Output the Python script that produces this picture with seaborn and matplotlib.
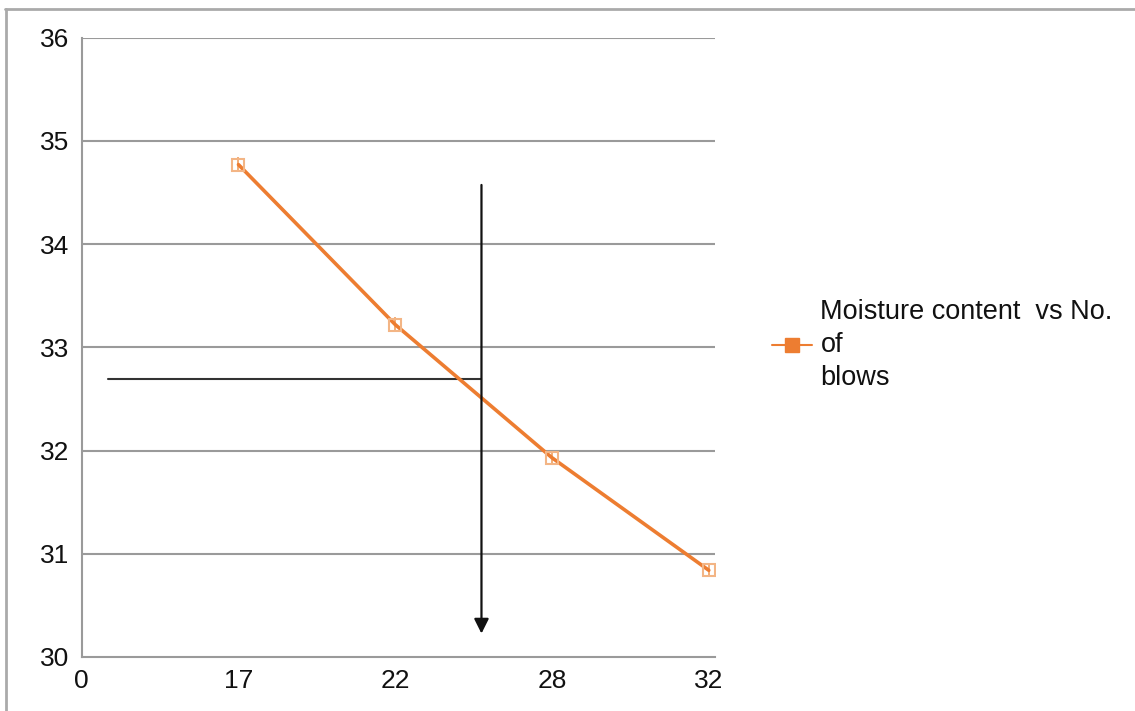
import matplotlib
matplotlib.use("Agg")
import matplotlib.pyplot as plt
import seaborn as sns
import pandas as pd
from matplotlib.lines import Line2D

# data
x_labels = ["0", "17", "22", "28", "32"]
blows = ["17", "22", "28", "32"]
moisture = [34.77, 33.22, 31.93, 30.84]

# guide lines (reading moisture at 25 blows)
guide_x = 2.55
guide_y = 32.69

sns.set_style("white")
plt.rcParams['font.family'] = ['Liberation Sans', 'DejaVu Sans']
plt.rcParams['text.color'] = '#111111'
plt.rcParams['xtick.labelcolor'] = '#111111'
plt.rcParams['ytick.labelcolor'] = '#111111'

orange = "#ED7D31"
grid_col = "#9a9a9a"

df = pd.DataFrame({"pos": [x_labels.index(b) for b in blows], "moisture": moisture})

fig = plt.figure(figsize=(11.35, 7.11), dpi=100)
ax = fig.add_axes([0.072, 0.076, 0.558, 0.871])

for yv in range(31, 37):
    ax.axhline(yv, color=grid_col, lw=1.5, zorder=1)

sns.lineplot(data=df, x="pos", y="moisture", color=orange, lw=2.6, ax=ax,
             marker="s", markersize=9, markerfacecolor="none",
             markeredgecolor="#f3b585", markeredgewidth=1.5, zorder=3)

# small vertical error ticks on markers
ax.errorbar(df["pos"], df["moisture"], yerr=0.07, fmt="none",
            ecolor="#f0a060", elinewidth=1.2, zorder=2)

# reading lines
ax.plot([0.17, guide_x], [guide_y, guide_y], color="#333333", lw=1.5, zorder=2)
ax.annotate("", xy=(guide_x, 30.2), xytext=(guide_x, 34.6),
            arrowprops=dict(arrowstyle="-|>", color="#111111", lw=1.6,
                            mutation_scale=22), zorder=4)

ax.set_xlim(0, 4.04)
ax.set_ylim(30, 36)
ax.set_xticks(range(len(x_labels)))
ax.set_xticklabels(x_labels)
ax.set_yticks(range(30, 37))
ax.set_xlabel("")
ax.set_ylabel("")
ax.tick_params(axis="y", length=7, color=grid_col, labelsize=19, pad=2)
ax.tick_params(axis="x", length=0, labelsize=19, pad=9)
for s in ["top", "right"]:
    ax.spines[s].set_visible(False)
for s in ["left", "bottom"]:
    ax.spines[s].set_color(grid_col)
    ax.spines[s].set_linewidth(1.5)

handle = Line2D([], [], color=orange, lw=1.5, marker="s", markersize=10,
                markerfacecolor=orange, markeredgecolor=orange)
leg = ax.legend([handle], ["Moisture content  vs No.\nof\nblows"], loc="center left",
                bbox_to_anchor=(0.668, 0.515), bbox_transform=fig.transFigure,
                frameon=False, fontsize=19.5, handlelength=1.5, handletextpad=0.3,
                labelspacing=0, borderpad=0)
for t in leg.get_texts():
    t.set_linespacing(1.35)

# outer frame of the original screenshot
fig.add_artist(Line2D([0.004, 1.0], [0.988, 0.988], color="#aaaaaa", lw=2,
                      transform=fig.transFigure))
fig.add_artist(Line2D([0.005, 0.005], [0.0, 0.988], color="#aaaaaa", lw=2,
                      transform=fig.transFigure))

fig.savefig("out.png", dpi=100)
